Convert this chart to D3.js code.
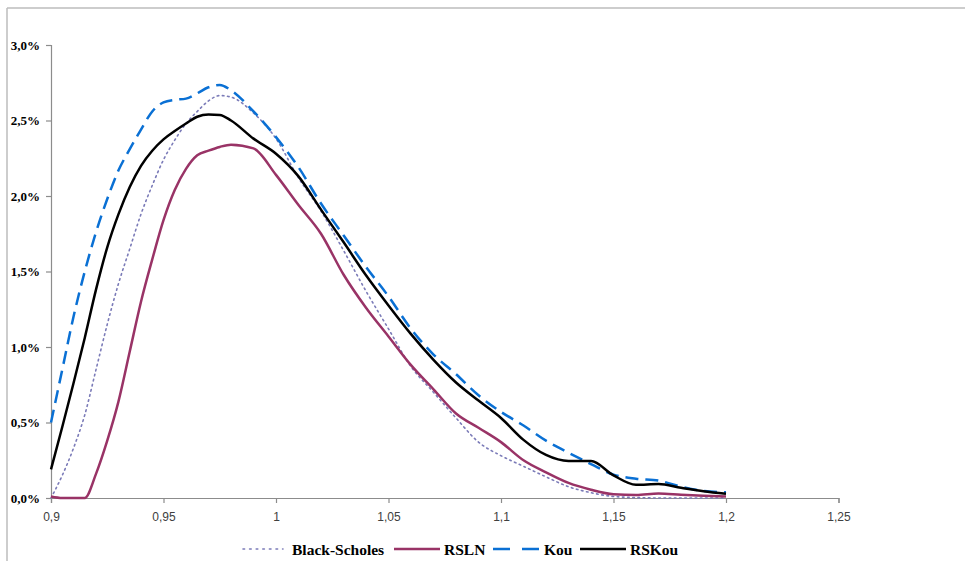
<!DOCTYPE html>
<html>
<head>
<meta charset="utf-8">
<script src="https://cdn.jsdelivr.net/npm/d3@7"></script>
<style>
  html, body { margin: 0; padding: 0; background: #fff; }
  svg { display: block; }
</style>
</head>
<body>
<svg id="chart" width="965" height="561"></svg>
<script>
// ---- Data (values in %) ----
const xValues = [0.9, 0.905, 0.91, 0.915, 0.92, 0.925, 0.93, 0.935, 0.94, 0.945, 0.95, 0.955, 0.96, 0.965, 0.97, 0.975, 0.98,
  0.99, 1.0, 1.01, 1.02, 1.03, 1.04, 1.05, 1.06, 1.07, 1.08, 1.09, 1.10, 1.11, 1.12, 1.13, 1.14, 1.15, 1.16, 1.17, 1.18, 1.19, 1.20];

const blackScholes = [0.0, 0.15, 0.33, 0.55, 0.85, 1.15, 1.42, 1.65, 1.88, 2.07, 2.24, 2.37, 2.48, 2.56, 2.63, 2.665, 2.655,
  2.55, 2.38, 2.12, 1.90, 1.64, 1.37, 1.12, 0.87, 0.70, 0.53, 0.37, 0.28, 0.21, 0.14, 0.075, 0.035, 0.01, 0.003, 0.0, 0.0, 0.0, 0.0];

const rsln = [0.01, 0.0, 0.0, 0.0, 0.16, 0.38, 0.64, 0.97, 1.30, 1.58, 1.84, 2.04, 2.18, 2.27, 2.30, 2.325, 2.34,
  2.315, 2.14, 1.94, 1.75, 1.48, 1.26, 1.07, 0.88, 0.72, 0.56, 0.465, 0.37, 0.25, 0.17, 0.10, 0.055, 0.025, 0.02, 0.03, 0.022, 0.015, 0.01];

const kou = [0.50, 0.85, 1.20, 1.50, 1.76, 1.98, 2.17, 2.31, 2.44, 2.56, 2.62, 2.637, 2.645, 2.68, 2.72, 2.735, 2.70,
  2.56, 2.39, 2.19, 1.95, 1.74, 1.53, 1.335, 1.12, 0.95, 0.82, 0.68, 0.57, 0.48, 0.38, 0.30, 0.225, 0.155, 0.128, 0.115, 0.075, 0.047, 0.038];

const rsKou = [0.19, 0.47, 0.76, 1.06, 1.38, 1.66, 1.88, 2.06, 2.20, 2.30, 2.375, 2.43, 2.48, 2.525, 2.54, 2.537, 2.50,
  2.38, 2.28, 2.13, 1.91, 1.695, 1.475, 1.275, 1.085, 0.915, 0.765, 0.645, 0.53, 0.385, 0.285, 0.245, 0.245, 0.15, 0.088, 0.092, 0.068, 0.045, 0.028];

const xTicks = [0.9, 0.95, 1.0, 1.05, 1.1, 1.15, 1.2, 1.25];
const xTickLabels = ["0,9", "0,95", "1", "1,05", "1,1", "1,15", "1,2", "1,25"];
const yTicks = [0, 0.5, 1.0, 1.5, 2.0, 2.5, 3.0];
const yTickLabels = ["0,0%", "0,5%", "1,0%", "1,5%", "2,0%", "2,5%", "3,0%"];

const seriesNames = ["Black-Scholes", "RSLN", "Kou", "RSKou"];
const seriesValues = [blackScholes, rsln, kou, rsKou];

// ---- Styles ----
const styles = {
  "Black-Scholes": { color: "#7b7bb8", width: 1.6, dash: "1.6,3.6", cap: "round" },
  "RSLN": { color: "#993366", width: 2.5, dash: null, cap: "butt" },
  "Kou": { color: "#0a70d4", width: 2.5, dash: "13,7", cap: "butt" },
  "RSKou": { color: "#000000", width: 2.5, dash: null, cap: "butt" }
};

const svg = d3.select("#chart");

// frame lines
svg.append("line").attr("x1", 7).attr("y1", 8).attr("x2", 965).attr("y2", 8)
  .attr("stroke", "#bdbdbd").attr("stroke-width", 1.5);
svg.append("line").attr("x1", 7).attr("y1", 8).attr("x2", 7).attr("y2", 561)
  .attr("stroke", "#bdbdbd").attr("stroke-width", 1.5);

const x = d3.scaleLinear().domain([0.9, 1.25]).range([51, 838.5]);
const y = d3.scaleLinear().domain([0, 3.0]).range([498, 45]);

// y axis
const yAxis = d3.axisLeft(y).tickValues(yTicks).tickSize(5).tickPadding(6)
  .tickFormat((d, i) => yTickLabels[i]);
const gy = svg.append("g").attr("transform", "translate(51,0)").call(yAxis);
gy.select(".domain").attr("stroke", "#8c8c8c").attr("stroke-width", 1.2);
gy.selectAll(".tick line").attr("stroke", "#8c8c8c").attr("stroke-width", 1.2);
gy.selectAll(".tick text").attr("font-family", "'Liberation Serif', 'Times New Roman', serif")
  .attr("font-weight", "bold").attr("font-size", 13).attr("fill", "#000");

// x axis
const xAxis = d3.axisBottom(x).tickValues(xTicks).tickSize(5).tickPadding(9)
  .tickFormat((d, i) => xTickLabels[i]);
const gx = svg.append("g").attr("transform", "translate(0,498)").call(xAxis);
gx.select(".domain").attr("stroke", "#8c8c8c").attr("stroke-width", 1.2);
gx.selectAll(".tick line").attr("stroke", "#8c8c8c").attr("stroke-width", 1.2);
gx.selectAll(".tick text").attr("font-family", "'Liberation Sans', Arial, sans-serif")
  .attr("font-size", 12).attr("fill", "#404040");

// lines
const line = d3.line()
  .x((d) => x(d[0]))
  .y((d) => y(d[1]))
  .curve(d3.curveMonotoneX);

const drawOrder = ["Black-Scholes", "RSLN", "Kou", "RSKou"];
drawOrder.forEach((name) => {
  const vals = seriesValues[seriesNames.indexOf(name)];
  const pts = xValues.map((xv, i) => [xv, vals[i]]);
  const st = styles[name];
  const p = svg.append("path").datum(pts)
    .attr("fill", "none")
    .attr("stroke", st.color)
    .attr("stroke-width", st.width)
    .attr("stroke-linecap", st.cap)
    .attr("stroke-linejoin", "round")
    .attr("d", line);
  if (st.dash) p.attr("stroke-dasharray", st.dash);
});

// legend
const legendY = 550;
const legendItems = [
  { name: "Black-Scholes", x1: 243, x2: 283, tx: 292 },
  { name: "RSLN", x1: 394, x2: 440, tx: 444 },
  { name: "Kou", x1: 493, x2: 539, tx: 544 },
  { name: "RSKou", x1: 580, x2: 626, tx: 630 }
];
const lg = svg.append("g");
legendItems.forEach((it) => {
  const st = styles[it.name];
  const l = lg.append("line").attr("x1", it.x1).attr("x2", it.x2)
    .attr("y1", legendY - 1).attr("y2", legendY - 1)
    .attr("stroke", st.color).attr("stroke-width", st.width).attr("stroke-linecap", st.cap);
  if (it.name === "Kou") l.attr("stroke-dasharray", "17,12");
  else if (st.dash) l.attr("stroke-dasharray", "1.6,5");
  lg.append("text").attr("x", it.tx).attr("y", legendY + 5)
    .attr("font-family", "'Liberation Serif', 'Times New Roman', serif")
    .attr("font-weight", "bold").attr("font-size", 15.5).attr("fill", "#000")
    .text(it.name);
});
</script>
</body>
</html>
